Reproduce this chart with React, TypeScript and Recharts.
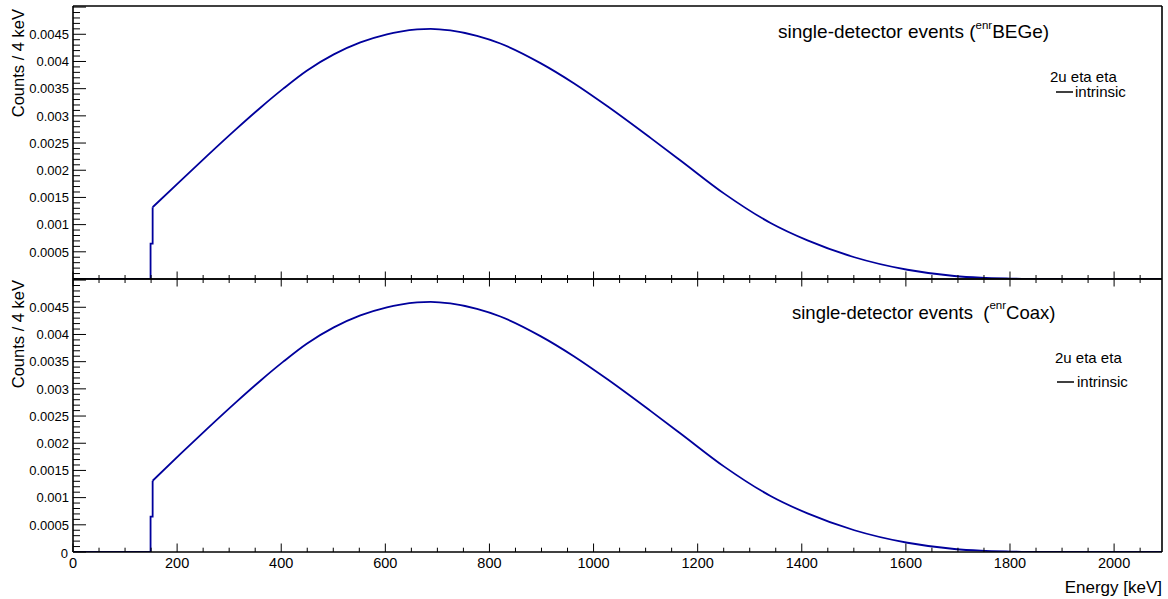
import React from 'react';
import { LineChart, Line, XAxis, YAxis } from 'recharts';

// ---- data ----
const edgeEnergy = [0, 149, 149, 153, 153];
const edgeCountsTop = [0, 0, 0.00065, 0.00065, 0.00132];
const edgeCountsBottom = [0, 0, 0.00065, 0.00065, 0.00131];

const curveEnergy = [153, 206, 257, 315, 360, 404, 449, 501, 552, 603, 629, 661, 687, 725, 776, 821, 898, 962, 1026, 1110, 1167, 1251, 1340, 1411, 1501, 1603, 1693, 1744, 1800, 1850, 2092];
const curveCountsTop = [0.00132, 0.0018, 0.00226, 0.00277, 0.00315, 0.0035, 0.00383, 0.00413, 0.00435, 0.0045, 0.00455, 0.00459, 0.0046, 0.00457, 0.00447, 0.00433, 0.00397, 0.0036, 0.00318, 0.00259, 0.00218, 0.00157, 0.00103, 0.00071, 0.0004, 0.00017, 0.000055, 0.000024, 0.000008, 0, 0];
const curveCountsBottom = [0.00131, 0.0018, 0.00226, 0.00277, 0.00315, 0.0035, 0.00383, 0.00413, 0.00435, 0.0045, 0.00455, 0.00459, 0.0046, 0.00457, 0.00447, 0.00433, 0.00397, 0.0036, 0.00318, 0.00259, 0.00218, 0.00157, 0.00103, 0.00071, 0.0004, 0.00017, 0.000055, 0.000024, 0.000008, 0, 0];

const yLabels = ['0', '0.0005', '0.001', '0.0015', '0.002', '0.0025', '0.003', '0.0035', '0.004', '0.0045'];
const xLabels = ['0', '200', '400', '600', '800', '1000', '1200', '1400', '1600', '1800', '2000'];

const X_MAX = 2092;
const Y_MAX = 0.00502;
const FONT = '"Liberation Sans", Arial, Helvetica, sans-serif';
const BLUE = '#00009c';

const yTicks: number[] = [];
for (let k = 0; k <= 50; k++) yTicks.push(k / 10000);
const xTicks: number[] = [];
for (let k = 0; k <= 41; k++) xTicks.push(k * 50);

const toRows = (xs: number[], ys: number[]) => xs.map((e, i) => ({ e, v: ys[i] }));

const makeYTick = (showZero: boolean) => (props: any) => {
  const { x, y, payload } = props;
  const k = Math.round(payload.value * 10000);
  const major = k % 5 === 0;
  const len = major ? 13 : 7;
  const idx = k / 5;
  const label = major && idx < yLabels.length && (k !== 0 || showZero) ? yLabels[idx] : null;
  return (
    <g>
      <line x1={x} x2={x + len} y1={y} y2={y} stroke="#000" strokeWidth={1} />
      {label && (
        <text
          x={k === 0 ? x - 5 : x - 4}
          y={k === 0 ? y + 6 : y + 4.7}
          textAnchor="end"
          fontSize={13}
          fontFamily={FONT}
          fill="#000"
        >
          {label}
        </text>
      )}
    </g>
  );
};

const makeXTick = (bottom: boolean) => (props: any) => {
  const { x, y, payload } = props;
  const v = Math.round(payload.value);
  const major = v % 200 === 0;
  const idx = v / 200;
  if (bottom) {
    const len = major ? 8.5 : 4.3;
    return (
      <g>
        <line x1={x} x2={x} y1={y} y2={y - len} stroke="#000" strokeWidth={1} />
        {major && idx < xLabels.length && (
          <text x={x} y={y + 16} textAnchor="middle" fontSize={14.5} fontFamily={FONT} fill="#000">
            {xLabels[idx]}
          </text>
        )}
      </g>
    );
  }
  const len = major ? 7.5 : 4;
  return <line x1={x} x2={x} y1={y - len} y2={y + len} stroke="#000" strokeWidth={1} />;
};

function Panel({ edge, curve, bottom }: { edge: any[]; curve: any[]; bottom: boolean }) {
  const height = bottom ? 329 : 300;
  const margin = bottom
    ? { top: 8, right: 5, bottom: 46, left: 72 }
    : { top: 5, right: 5, bottom: 20, left: 72 };
  return (
    <LineChart width={1168} height={height} margin={margin}>
      <XAxis
        dataKey="e"
        type="number"
        domain={[0, X_MAX]}
        ticks={xTicks}
        interval={0}
        height={1}
        tickSize={0}
        tickMargin={0}
        tickLine={false}
        tick={makeXTick(bottom)}
        axisLine={{ stroke: '#000', strokeWidth: 1.6 }}
        allowDataOverflow
      />
      <XAxis
        xAxisId="top"
        orientation="top"
        dataKey="e"
        type="number"
        domain={[0, X_MAX]}
        height={1}
        tick={false}
        tickLine={false}
        axisLine={{ stroke: '#000', strokeWidth: 1.6 }}
      />
      <YAxis
        type="number"
        domain={[0, Y_MAX]}
        ticks={yTicks}
        interval={0}
        width={1}
        tickSize={0}
        tickMargin={0}
        tickLine={false}
        tick={makeYTick(bottom)}
        axisLine={{ stroke: '#000', strokeWidth: 1.6 }}
        allowDataOverflow
      />
      <YAxis
        yAxisId="right"
        orientation="right"
        type="number"
        domain={[0, Y_MAX]}
        width={1}
        tick={false}
        tickLine={false}
        axisLine={{ stroke: '#000', strokeWidth: 1.6 }}
      />
      <Line
        data={edge}
        dataKey="v"
        type="linear"
        stroke={BLUE}
        strokeWidth={1.8}
        dot={false}
        activeDot={false}
        isAnimationActive={false}
      />
      <Line
        data={curve}
        dataKey="v"
        type="monotone"
        stroke={BLUE}
        strokeWidth={1.8}
        dot={false}
        activeDot={false}
        isAnimationActive={false}
      />
    </LineChart>
  );
}

export default function App() {
  const topEdge = toRows(edgeEnergy, edgeCountsTop);
  const topCurve = toRows(curveEnergy, curveCountsTop);
  const botEdge = toRows(edgeEnergy, edgeCountsBottom);
  const botCurve = toRows(curveEnergy, curveCountsBottom);
  const txt = { fontFamily: FONT, fill: '#000' } as const;
  return (
    <div style={{ position: 'absolute', left: 0, top: 0, width: 1168, height: 599, background: '#fff', overflow: 'hidden' }}>
      <div style={{ position: 'absolute', left: 0, top: 0 }}>
        <Panel edge={topEdge} curve={topCurve} bottom={false} />
      </div>
      <div style={{ position: 'absolute', left: 0, top: 270 }}>
        <Panel edge={botEdge} curve={botCurve} bottom={true} />
      </div>
      <svg width={1168} height={599} style={{ position: 'absolute', left: 0, top: 0, pointerEvents: 'none' }}>
        {/* y-axis titles */}
        <text {...txt} x={23.5} y={9} fontSize={16.5} textAnchor="end" transform="rotate(-90 23.5 9)">
          Counts / 4 keV
        </text>
        <text {...txt} x={23.5} y={280} fontSize={16.5} textAnchor="end" transform="rotate(-90 23.5 280)">
          Counts / 4 keV
        </text>
        {/* x-axis title */}
        <text {...txt} x={1162} y={593} fontSize={17} textAnchor="end">
          Energy [keV]
        </text>
        {/* top panel annotations */}
        <text {...txt} x={778} y={38} fontSize={19}>
          single-detector events (<tspan fontSize={11.5} dy={-9.5}>enr</tspan>
          <tspan dy={9.5}>BEGe)</tspan>
        </text>
        <text {...txt} x={1050} y={82} fontSize={15}>2u eta eta</text>
        <line x1={1056} x2={1073} y1={92} y2={92} stroke="#000" strokeWidth={1.5} />
        <text {...txt} x={1075} y={97} fontSize={15}>intrinsic</text>
        {/* bottom panel annotations */}
        <text {...txt} x={792} y={318.5} fontSize={18.5} style={{ whiteSpace: 'pre' }}>
          {'single-detector events  ('}<tspan fontSize={11.5} dy={-9.5}>enr</tspan>
          <tspan dy={9.5}>Coax)</tspan>
        </text>
        <text {...txt} x={1055} y={363} fontSize={15}>2u eta eta</text>
        <line x1={1057} x2={1074} y1={382} y2={382} stroke="#000" strokeWidth={1.5} />
        <text {...txt} x={1077} y={387} fontSize={15}>intrinsic</text>
      </svg>
    </div>
  );
}
